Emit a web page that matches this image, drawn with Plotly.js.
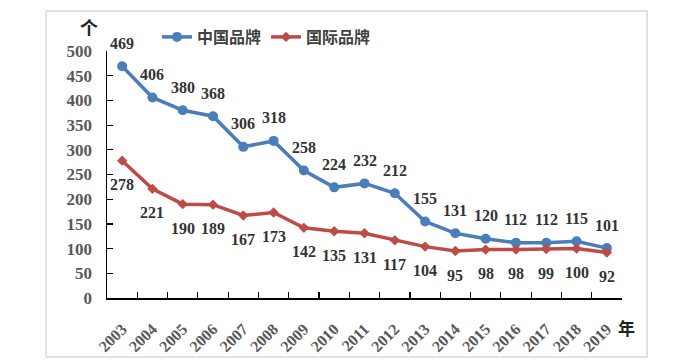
<!DOCTYPE html>
<html><head><meta charset="utf-8">
<script src="https://cdn.plot.ly/plotly-3.0.1.min.js"></script>
<style>html,body{margin:0;padding:0;background:#fff;}#chart{width:677px;height:360px;}</style>
</head><body><div id="chart"></div>
<script>
const years = ['2003','2004','2005','2006','2007','2008','2009','2010','2011','2012','2013','2014','2015','2016','2017','2018','2019'];
const chinaBrand = [469,406,380,368,306,318,258,224,232,212,155,131,120,112,112,115,101];
const intlBrand = [278,221,190,189,167,173,142,135,131,117,104,95,98,98,99,100,92];
const seriesNames = ['中国品牌','国际品牌'];
const yTicks = [0,50,100,150,200,250,300,350,400,450,500];

const numFont = {family:'Liberation Serif', size:16, color:'#333333', weight:'bold'};
const blue = '#4A7EBB', red = '#BE4B48';

const traces = [
  {x:years, y:chinaBrand, name:seriesNames[0], type:'scatter', mode:'lines+markers',
   line:{color:blue, width:3.5}, marker:{symbol:'circle', size:10, color:blue}},
  {x:years, y:intlBrand, name:seriesNames[1], type:'scatter', mode:'lines+markers',
   line:{color:red, width:3.5}, marker:{symbol:'diamond', size:8, color:red}}
];

const annotations = [];
years.forEach((yr,i)=>{
  annotations.push({x:i, y:chinaBrand[i], xref:'x', yref:'y', text:String(chinaBrand[i]), showarrow:false,
    xanchor:'center', yanchor:'middle', yshift:23, font:numFont});
  annotations.push({x:i, y:intlBrand[i], xref:'x', yref:'y', text:String(intlBrand[i]), showarrow:false,
    xanchor:'center', yanchor:'middle', yshift:-24, font:numFont});
});
annotations.push({xref:'paper', yref:'paper', x:(626-107)/515, y:(298-327)/247, text:'年', showarrow:false,
  xanchor:'center', yanchor:'middle', font:{family:'Noto Sans CJK SC', size:17, color:'#222', weight:'bold'}});
annotations.push({xref:'paper', yref:'paper', x:(89-107)/515, y:(298-27)/247, text:'个', showarrow:false,
  xanchor:'center', yanchor:'middle', font:{family:'Noto Sans CJK SC', size:18, color:'#222', weight:'bold'}});

const layout = {
  width:677, height:360,
  margin:{l:107, r:55, t:51, b:62},
  paper_bgcolor:'#fff', plot_bgcolor:'#fff',
  showlegend:true,
  legend:{orientation:'h', x:(157-107)/515, y:(298-37)/247, xanchor:'left', yanchor:'middle',
    font:{family:'Noto Sans CJK SC', size:16, color:'#404040', weight:'bold'}, bgcolor:'rgba(0,0,0,0)', itemwidth:30, tracegroupgap:0},
  xaxis:{type:'category', range:[-0.5,16.5], showline:true, linecolor:'#000', linewidth:1.5,
    ticks:'inside', tickson:'boundaries', ticklen:6, tickcolor:'#000', tickwidth:1.2,
    tickangle:-45, showgrid:false, zeroline:false, ticklabelstandoff:14,
    tickfont:{family:'Liberation Serif', size:16, color:'#595959', weight:'bold'}},
  yaxis:{range:[0,500], tickvals:yTicks, showline:true, linecolor:'#000', linewidth:1.5,
    ticks:'inside', ticklen:6, tickcolor:'#000', tickwidth:1.2, showgrid:false, zeroline:false,
    ticklabelstandoff:10,
    tickfont:{family:'Liberation Serif', size:17, color:'#595959', weight:'bold'}},
  annotations:annotations,
  shapes:[{type:'rect', xref:'paper', yref:'paper', x0:(46-107)/515, x1:(647-107)/515, y0:(298-357)/247, y1:(298-11)/247,
    line:{color:'#d9d9d9', width:1.5}, fillcolor:'rgba(0,0,0,0)', layer:'below'}]
};
Plotly.newPlot('chart', traces, layout, {displayModeBar:false, staticPlot:true});
</script></body></html>
